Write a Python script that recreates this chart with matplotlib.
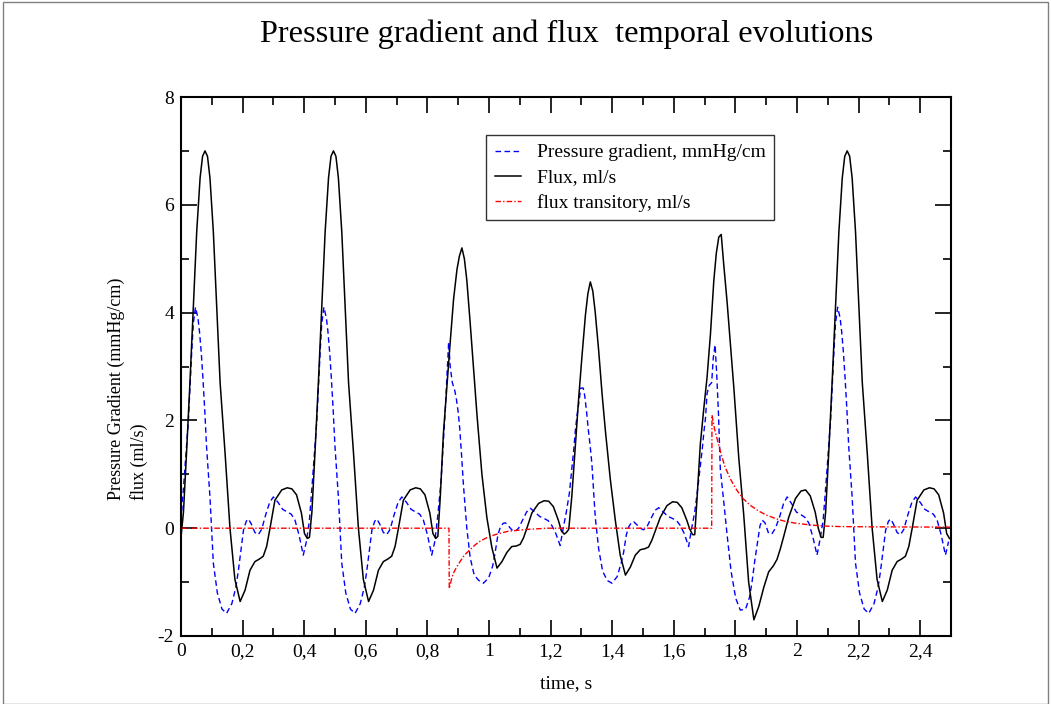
import numpy as np
import matplotlib
matplotlib.use('Agg')
import matplotlib.pyplot as plt
from matplotlib.ticker import MultipleLocator, FuncFormatter
from matplotlib.patches import Rectangle

plt.rcParams['font.family'] = ['Liberation Serif', 'DejaVu Serif']

# start time of each heart beat, s
beat_start = [0.0, 0.417, 0.834, 1.251, 1.668, 2.085]

# flux, ml/s - read per beat on a common phase grid (s after beat start)
flux_phase = [0.000, 0.008, 0.018, 0.029, 0.040, 0.051, 0.062, 0.070, 0.078, 0.086,
              0.094, 0.105, 0.116, 0.127, 0.143, 0.159, 0.175, 0.192, 0.208, 0.224,
              0.240, 0.255, 0.267, 0.278, 0.289, 0.305, 0.327, 0.345, 0.360, 0.375,
              0.391, 0.401, 0.410]
flux_normal = [-0.17, 0.3, 1.4, 2.7, 4.1, 5.5, 6.5, 6.9, 7.0, 6.9,
               6.5, 5.5, 4.1, 2.7, 1.4, 0.0, -0.95, -1.36, -1.15, -0.78,
               -0.62, -0.57, -0.52, -0.34, 0.0, 0.52, 0.71, 0.75, 0.73, 0.62,
               0.28, -0.1, -0.19]
flux_beat3 = [-0.15, 0.6, 1.76, 2.6, 3.45, 4.25, 4.8, 5.05, 5.2, 5.0,
              4.6, 3.8, 2.95, 2.1, 1.0, 0.2, -0.35, -0.74, -0.62, -0.45,
              -0.34, -0.33, -0.3, -0.18, 0.0, 0.28, 0.46, 0.51, 0.5, 0.4,
              0.15, -0.05, -0.11]
flux_beat4 = [-0.08, -0.02, 0.6, 1.5, 2.4, 3.2, 3.95, 4.35, 4.57, 4.4,
              4.0, 3.3, 2.5, 1.8, 0.9, 0.15, -0.5, -0.87, -0.72, -0.5,
              -0.4, -0.38, -0.35, -0.22, -0.05, 0.2, 0.42, 0.49, 0.48, 0.38,
              0.15, -0.02, -0.12]
flux_beat5 = [-0.12, 0.6, 1.55, 2.2, 2.8, 3.6, 4.6, 5.1, 5.4, 5.45,
              4.9, 4.2, 3.4, 2.6, 1.3, 0.25, -1.0, -1.70, -1.45, -1.1,
              -0.81, -0.7, -0.58, -0.38, -0.15, 0.2, 0.55, 0.69, 0.71, 0.6,
              0.3, 0.0, -0.17]
flux_beats = [flux_normal, flux_normal, flux_beat3, flux_beat4, flux_beat5, flux_normal]

# pressure gradient, mmHg/cm
pg_phase = [0.000, 0.010, 0.024, 0.030, 0.035, 0.040, 0.047, 0.055, 0.060, 0.066,
            0.071, 0.077, 0.083, 0.094, 0.105, 0.118, 0.133, 0.148, 0.165, 0.178,
            0.186, 0.195, 0.203, 0.212, 0.219, 0.228, 0.240, 0.251, 0.262, 0.275,
            0.288, 0.300, 0.315, 0.330, 0.345, 0.358, 0.370, 0.383, 0.397, 0.407]
pg_normal = [0.15, 0.9, 2.0, 2.7, 3.3, 3.8, 4.1, 3.9, 3.65, 3.24,
             2.8, 2.2, 1.51, 0.58, -0.65, -1.2, -1.5, -1.58, -1.4, -1.1,
             -0.8, -0.4, -0.03, 0.13, 0.17, 0.08, -0.08, -0.12, -0.02, 0.25,
             0.48, 0.58, 0.48, 0.35, 0.3, 0.26, 0.15, -0.12, -0.5, -0.25]
pg_beat3 = [0.25, 0.85, 2.2, 2.9, 3.45, 3.0, 2.7, 2.55, 2.4, 2.15,
            1.85, 1.35, 0.8, 0.0, -0.55, -0.87, -0.97, -1.02, -0.92, -0.7,
            -0.45, -0.12, 0.02, 0.09, 0.10, 0.05, -0.03, -0.06, 0.0, 0.15,
            0.3, 0.37, 0.3, 0.22, 0.18, 0.14, 0.05, -0.1, -0.32, 0.0]
pg_beat4 = [0.3, 0.65, 1.45, 1.85, 2.1, 2.3, 2.6, 2.6, 2.45, 2.15,
            1.85, 1.55, 1.2, 0.2, -0.38, -0.8, -0.97, -1.02, -0.9, -0.65,
            -0.45, -0.12, 0.03, 0.11, 0.12, 0.07, 0.0, -0.03, 0.03, 0.18,
            0.33, 0.38, 0.3, 0.22, 0.18, 0.14, 0.05, -0.1, -0.34, 0.0]
pg_beat5 = [0.3, 0.75, 1.45, 1.8, 2.05, 2.5, 2.65, 2.7, 3.15, 3.4,
            2.9, 2.13, 1.1, 0.5, -0.12, -0.8, -1.3, -1.52, -1.5, -1.28,
            -1.0, -0.6, -0.3, 0.05, 0.15, 0.1, -0.1, -0.1, 0.0, 0.2,
            0.45, 0.58, 0.45, 0.3, 0.25, 0.2, 0.1, -0.15, -0.5, -0.2]
pg_beats = [pg_normal, pg_normal, pg_beat3, pg_beat4, pg_beat5, pg_normal]

# transitory flux, ml/s
t_trans = [0.0, 0.870, 0.871, 0.878, 0.884, 0.895, 0.906, 0.920, 0.938, 0.955,
           0.971, 0.995, 1.025, 1.06, 1.09, 1.13, 1.19, 1.723, 1.724, 1.732,
           1.744, 1.755, 1.766, 1.785, 1.804, 1.825, 1.847, 1.875, 1.902, 1.935,
           1.966, 2.0, 2.042, 2.09, 2.14, 2.25, 2.5]
flux_trans = [0.0, 0.0, -1.12, -0.95, -0.84, -0.72, -0.62, -0.5, -0.4, -0.31,
              -0.24, -0.17, -0.11, -0.06, -0.04, -0.02, 0.0, 0.0, 2.1, 1.85,
              1.58, 1.35, 1.14, 0.9, 0.71, 0.55, 0.43, 0.32, 0.24, 0.17,
              0.12, 0.09, 0.06, 0.04, 0.03, 0.025, 0.02]

t_flux = np.concatenate([np.array(flux_phase) + s for s in beat_start])
flux = np.concatenate([np.array(v) for v in flux_beats])
t_pg = np.concatenate([np.array(pg_phase) + s for s in beat_start])
pg = np.concatenate([np.array(v) for v in pg_beats])

fig = plt.figure(figsize=(10.51, 7.04), dpi=100)
ax = fig.add_axes([181 / 1051, 1 - 636 / 704, 770 / 1051, 539 / 704])

ax.plot(t_pg, pg, color='#0000ff', lw=1.0, ls=(0, (4, 2.5)), label='Pressure gradient, mmHg/cm')
ax.plot(t_flux, flux, color='black', lw=1.1, label='Flux, ml/s')
ax.plot(t_trans, flux_trans, color='#ff0000', lw=1.0, ls=(0, (4, 1.5, 1, 1.5)), label='flux transitory, ml/s')

ax.set_xlim(0, 2.5)
ax.set_ylim(-2, 8)
ax.xaxis.set_major_locator(MultipleLocator(0.2))
ax.xaxis.set_minor_locator(MultipleLocator(0.1))
ax.yaxis.set_major_locator(MultipleLocator(2))
ax.yaxis.set_minor_locator(MultipleLocator(1))
comma = FuncFormatter(lambda v, p: f'{v:g}'.replace('.', ','))
ax.xaxis.set_major_formatter(comma)
ax.yaxis.set_major_formatter(comma)
ax.tick_params(which='both', direction='in', top=True, right=True, width=1.2, labelsize=14, pad=5)
ax.tick_params(which='major', length=11.5)
ax.tick_params(which='minor', length=6)
for s in ax.spines.values():
    s.set_linewidth(1.5)

ax.set_xlabel('time, s', fontsize=14, labelpad=11)
fig.text(128 / 1051, 1 - 500 / 704, 'Pressure Gradient (mmHg/cm)\nflux (ml/s)', rotation=90,
         ha='center', va='bottom', multialignment='left', fontsize=13, linespacing=1.35)

fig.text(567 / 1051, 1 - 34 / 704, 'Pressure gradient and flux  temporal evolutions',
         ha='center', va='center', fontsize=23.3)

leg = ax.legend(loc='upper left', bbox_to_anchor=((486 - 181) / 770, (636 - 135) / 539),
                fontsize=14, frameon=True, fancybox=False, handlelength=1.35,
                handletextpad=0.8, borderpad=0.45, labelspacing=0.38, borderaxespad=0)
leg.get_frame().set_edgecolor('black')
leg.get_frame().set_linewidth(1.0)

fig.patches.append(Rectangle((3 / 1051, 0), 1 - 6 / 1051, 1 - 2 / 704, transform=fig.transFigure,
                             fill=False, edgecolor='#808080', lw=1.0))

fig.savefig('out.png', dpi=100)
